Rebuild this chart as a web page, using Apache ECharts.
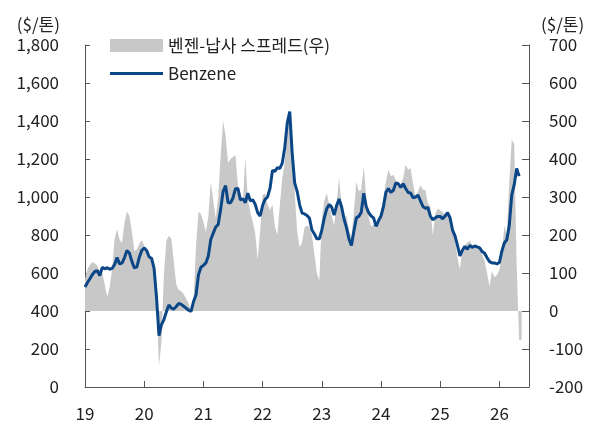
<!DOCTYPE html>
<html>
<head>
<meta charset="utf-8">
<script src="https://cdn.jsdelivr.net/npm/echarts@6/dist/echarts.min.js"></script>
<style>
html, body { margin: 0; padding: 0; background: #fff; }
#chart { width: 600px; height: 431px; }
</style>
</head>
<body>
<div id="chart"></div>
<script>
// half-monthly points from Jan 2019
const startYear = 2019
const stepsPerYear = 24
const yearLabels = ['19', '20', '21', '22', '23', '24', '25', '26']

const spreadName = '벤젠-납사 스프레드(우)'
const benzeneName = 'Benzene'

// Benzene price, $/톤 (left axis)
const benzene = [
    526, 550, 570, 592, 608, 612, 586, 630, 622, 628, 620, 624, 645, 682, 648, 652, 680, 718, 705, 661, 627, 631, 682, 718,
    732, 718, 684, 677, 625, 470, 270, 328, 355, 396, 432, 415, 410, 424, 440, 435, 425, 415, 404, 398, 450, 484, 590, 630,
    640, 653, 690, 776, 810, 842, 855, 935, 1030, 1060, 970, 970, 995, 1044, 1045, 985, 990, 970, 1020, 980, 985, 962, 918, 900,
    955, 988, 1000, 1045, 1140, 1135, 1155, 1150, 1180, 1262, 1390, 1450, 1230, 1074, 1030, 960, 915, 911, 903, 888, 826, 805, 780, 780,
    826, 890, 938, 960, 947, 905, 955, 990, 950, 885, 840, 780, 745, 820, 890, 898, 920, 1020, 950, 918, 900, 890, 845, 875,
    900, 950, 1025, 1045, 1024, 1035, 1074, 1070, 1050, 1070, 1045, 1024, 1021, 995, 1000, 1010, 980, 950, 940, 945, 900, 880, 890, 898,
    898, 885, 900, 918, 890, 826, 795, 745, 690, 720, 740, 725, 745, 735, 742, 737, 732, 713, 704, 680, 660, 653, 653, 648,
    655, 715, 758, 775, 850, 1010, 1065, 1150, 1110
]

// Benzene-naphtha spread, $/톤 (right axis)
const spread = [
    82, 110, 122, 129, 125, 120, 104, 100, 70, 37, 63, 110, 190, 215, 188, 179, 232, 262, 250, 210, 158, 162, 176, 187,
    172, 160, 150, 140, 115, 20, -145, -80, 100, 185, 198, 190, 130, 70, 55, 52, 45, 32, 20, 0, 30, 170, 262, 255,
    235, 208, 250, 340, 290, 245, 300, 410, 500, 460, 390, 400, 405, 410, 330, 305, 285, 405, 295, 260, 234, 205, 135, 210,
    305, 310, 280, 265, 280, 222, 200, 280, 350, 392, 490, 520, 430, 313, 210, 168, 180, 220, 225, 220, 200, 150, 100, 80,
    240, 290, 310, 280, 250, 225, 280, 350, 280, 248, 250, 212, 195, 260, 340, 315, 320, 380, 300, 247, 222, 228, 218, 240,
    255, 300, 340, 372, 355, 358, 345, 332, 335, 350, 385, 372, 376, 335, 300, 315, 330, 320, 318, 284, 275, 200, 255, 270,
    265, 260, 253, 255, 240, 213, 187, 140, 110, 165, 172, 180, 185, 174, 172, 168, 166, 148, 132, 100, 65, 105, 89, 95,
    108, 150, 225, 200, 340, 450, 440, 120, -76, -76
]

const FONT = '"Noto Sans CJK KR", "Noto Sans", sans-serif'
const AXIS_COLOR = '#555'
const TEXT_COLOR = '#222'

const toPairs = (vals) => vals.map((v, i) => [startYear + i / stepsPerYear, v])

const chart = echarts.init(document.getElementById('chart'))
chart.setOption({
    animation: false,
    textStyle: { fontFamily: FONT },
    grid: { left: 85, right: 71, top: 45, bottom: 44 },
    legend: {
        orient: 'vertical',
        left: 110,
        top: 37,
        padding: 0,
        itemWidth: 53,
        itemHeight: 13,
        itemGap: 11,
        textStyle: { fontSize: 17, color: TEXT_COLOR, fontFamily: FONT },
        data: [
            { name: spreadName, icon: 'rect' },
            { name: benzeneName, icon: 'path://M0,0H53V3H0Z' }
        ]
    },
    xAxis: {
        type: 'value',
        min: 2019,
        max: 2026.5,
        interval: 1,
        axisLine: { onZero: false, lineStyle: { color: AXIS_COLOR } },
        axisTick: { inside: true, length: 6, lineStyle: { color: AXIS_COLOR } },
        axisLabel: {
            margin: 18,
            fontSize: 17,
            color: TEXT_COLOR,
            formatter: (v) => Number.isInteger(v) ? (yearLabels[v - startYear] || '') : ''
        },
        splitLine: { show: false }
    },
    yAxis: [{
        type: 'value',
        position: 'left',
        min: 0,
        max: 1800,
        interval: 200,
        name: '($/톤)',
        nameLocation: 'end',
        nameGap: 12,
        nameTextStyle: { align: 'right', padding: [0, 25, 0, 0], fontSize: 17, color: TEXT_COLOR },
        axisLine: { show: true, lineStyle: { color: AXIS_COLOR } },
        axisTick: { show: true, inside: true, length: 5, lineStyle: { color: AXIS_COLOR } },
        axisLabel: { margin: 26, fontSize: 17, color: TEXT_COLOR, formatter: (v) => v.toLocaleString('en-US') },
        splitLine: { show: false }
    }, {
        type: 'value',
        position: 'right',
        min: -200,
        max: 700,
        interval: 100,
        name: '($/톤)',
        nameLocation: 'end',
        nameGap: 12,
        nameTextStyle: { align: 'left', padding: [0, 0, 0, 12], fontSize: 17, color: TEXT_COLOR },
        axisLine: { show: true, lineStyle: { color: AXIS_COLOR } },
        axisTick: { show: true, inside: true, length: 7, lineStyle: { color: AXIS_COLOR } },
        axisLabel: { margin: 20, fontSize: 17, color: TEXT_COLOR },
        splitLine: { show: false }
    }],
    series: [{
        name: spreadName,
        type: 'line',
        yAxisIndex: 1,
        data: toPairs(spread),
        symbol: 'none',
        lineStyle: { width: 0 },
        itemStyle: { color: '#c8c8c8' },
        areaStyle: { color: '#c8c8c8', opacity: 1 },
        z: 1
    }, {
        name: benzeneName,
        type: 'line',
        yAxisIndex: 0,
        data: toPairs(benzene),
        symbol: 'none',
        lineStyle: { width: 3, color: '#0b4687' },
        itemStyle: { color: '#0b4687' },
        z: 2
    }]
})
</script>
</body>
</html>
